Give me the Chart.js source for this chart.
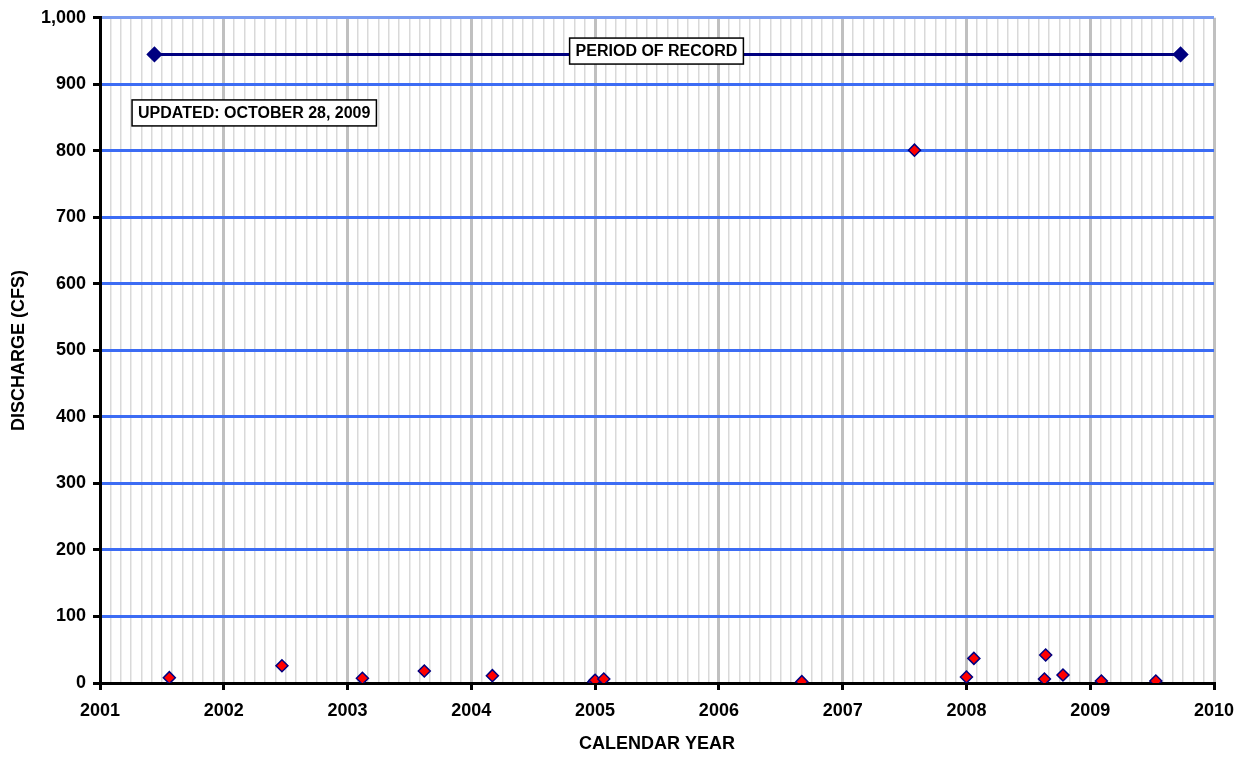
<!DOCTYPE html>
<html>
<head>
<meta charset="utf-8">
<script src="https://cdn.jsdelivr.net/npm/chart.js@4"></script>
<style>
  html, body { margin: 0; padding: 0; background: #fff; }
  #wrap { width: 1247px; height: 759px; }
</style>
</head>
<body>
<div id="wrap"><canvas id="myChart" width="1247" height="759"></canvas></div>
<script>
// measurement dates (decimal year) and discharge in cfs
var sampleYears = [2001.56, 2002.47, 2003.12, 2003.62, 2004.17, 2004.99, 2005.0, 2005.07, 2006.67,
                   2007.58, 2008.0, 2008.06, 2008.63, 2008.64, 2008.78, 2009.09, 2009.53];
var discharge = [8, 26, 7, 18, 11, 2, 4, 6, 2,
                 801, 9, 37, 6, 42, 12, 3, 3];

// period of record line
var recordYears = [2001.44, 2009.73];
var recordLevel = [945, 945];

var yearTicks = ['2001', '2002', '2003', '2004', '2005', '2006', '2007', '2008', '2009', '2010'];

var fontBold = { family: 'Arial, "Liberation Sans", sans-serif', size: 18, weight: 'bold' };

var boxLabels = {
    id: 'boxLabels',
    afterDatasetsDraw: function (chart) {
        var c = chart.ctx, xs = chart.scales.x, ys = chart.scales.y;
        function box(text, x, y, align) {
            c.save();
            c.font = 'bold 16px Arial, "Liberation Sans", sans-serif';
            var w = c.measureText(text).width + 12, h = 26;
            var left = align === 'center' ? x - w / 2 : x;
            c.fillStyle = '#fff';
            c.fillRect(left, y - h / 2, w, h);
            c.strokeStyle = '#000';
            c.lineWidth = 1.5;
            c.strokeRect(left, y - h / 2, w, h);
            c.fillStyle = '#000';
            c.textBaseline = 'middle';
            c.textAlign = 'left';
            c.fillText(text, left + 6, y + 1);
            c.restore();
        }
        box('PERIOD OF RECORD', xs.getPixelForValue(2005.496), ys.getPixelForValue(950), 'center');
        box('UPDATED: OCTOBER 28, 2009', xs.getPixelForValue(2001.259), ys.getPixelForValue(857), 'left');
    }
};

var ctx = document.getElementById('myChart').getContext('2d');
var myChart = new Chart(ctx, {
    type: 'scatter',
    data: {
        datasets: [{
            label: 'Period of record',
            data: recordYears.map(function (x, i) { return { x: x, y: recordLevel[i] }; }),
            showLine: true,
            borderColor: '#000080',
            borderWidth: 3,
            pointStyle: 'rectRot',
            pointRadius: 6,
            pointBackgroundColor: '#000080',
            pointBorderColor: '#000080'
        }, {
            label: 'Discharge',
            data: sampleYears.map(function (x, i) { return { x: x, y: discharge[i] }; }),
            pointStyle: 'rectRot',
            pointRadius: 6,
            pointBorderWidth: 1.5,
            pointBackgroundColor: '#ff0000',
            pointBorderColor: '#000080'
        }]
    },
    options: {
        responsive: false,
        animation: false,
        layout: { padding: { left: 0, right: 33, top: 13, bottom: 0 } },
        plugins: {
            legend: { display: false },
            tooltip: { enabled: false }
        },
        scales: {
            x: {
                type: 'linear',
                min: 2001,
                max: 2010,
                afterBuildTicks: function (scale) {
                    var t = [];
                    for (var i = 0; i <= 108; i++) t.push({ value: 2001 + i / 12 });
                    scale.ticks = t;
                },
                afterFit: function (scale) { scale.height = 76; },
                ticks: {
                    autoSkip: false,
                    maxRotation: 0,
                    color: '#000',
                    font: fontBold,
                    padding: 10,
                    callback: function (v, i) { return i % 12 === 0 ? yearTicks[i / 12] : ''; }
                },
                grid: {
                    color: function (c) { return c.index % 12 === 0 ? '#c0c0c0' : '#d9d9d9'; },
                    lineWidth: function (c) { return c.index % 12 === 0 ? 3 : 1.5; },
                    tickColor: function (c) { return c.index % 12 === 0 ? '#000' : 'rgba(0,0,0,0)'; },
                    tickWidth: 3,
                    tickLength: 7
                },
                border: { color: '#000', width: 3 },
                title: { display: true, text: 'CALENDAR YEAR', color: '#000', font: fontBold, padding: { top: 0, bottom: 4 } }
            },
            y: {
                min: 0,
                max: 1000,
                afterFit: function (scale) { scale.width = 100; },
                ticks: { stepSize: 100, color: '#000', font: fontBold, padding: 7 },
                grid: {
                    color: function (c) { return c.index === 10 ? '#7b9cf0' : '#3c6cf4'; },
                    lineWidth: 3,
                    tickColor: '#000',
                    tickWidth: 3,
                    tickLength: 7
                },
                border: { color: '#000', width: 3 },
                title: { display: true, text: 'DISCHARGE (CFS)', color: '#000', font: fontBold, padding: { top: 8, bottom: 0 } }
            }
        }
    },
    plugins: [boxLabels]
});
</script>
</body>
</html>
